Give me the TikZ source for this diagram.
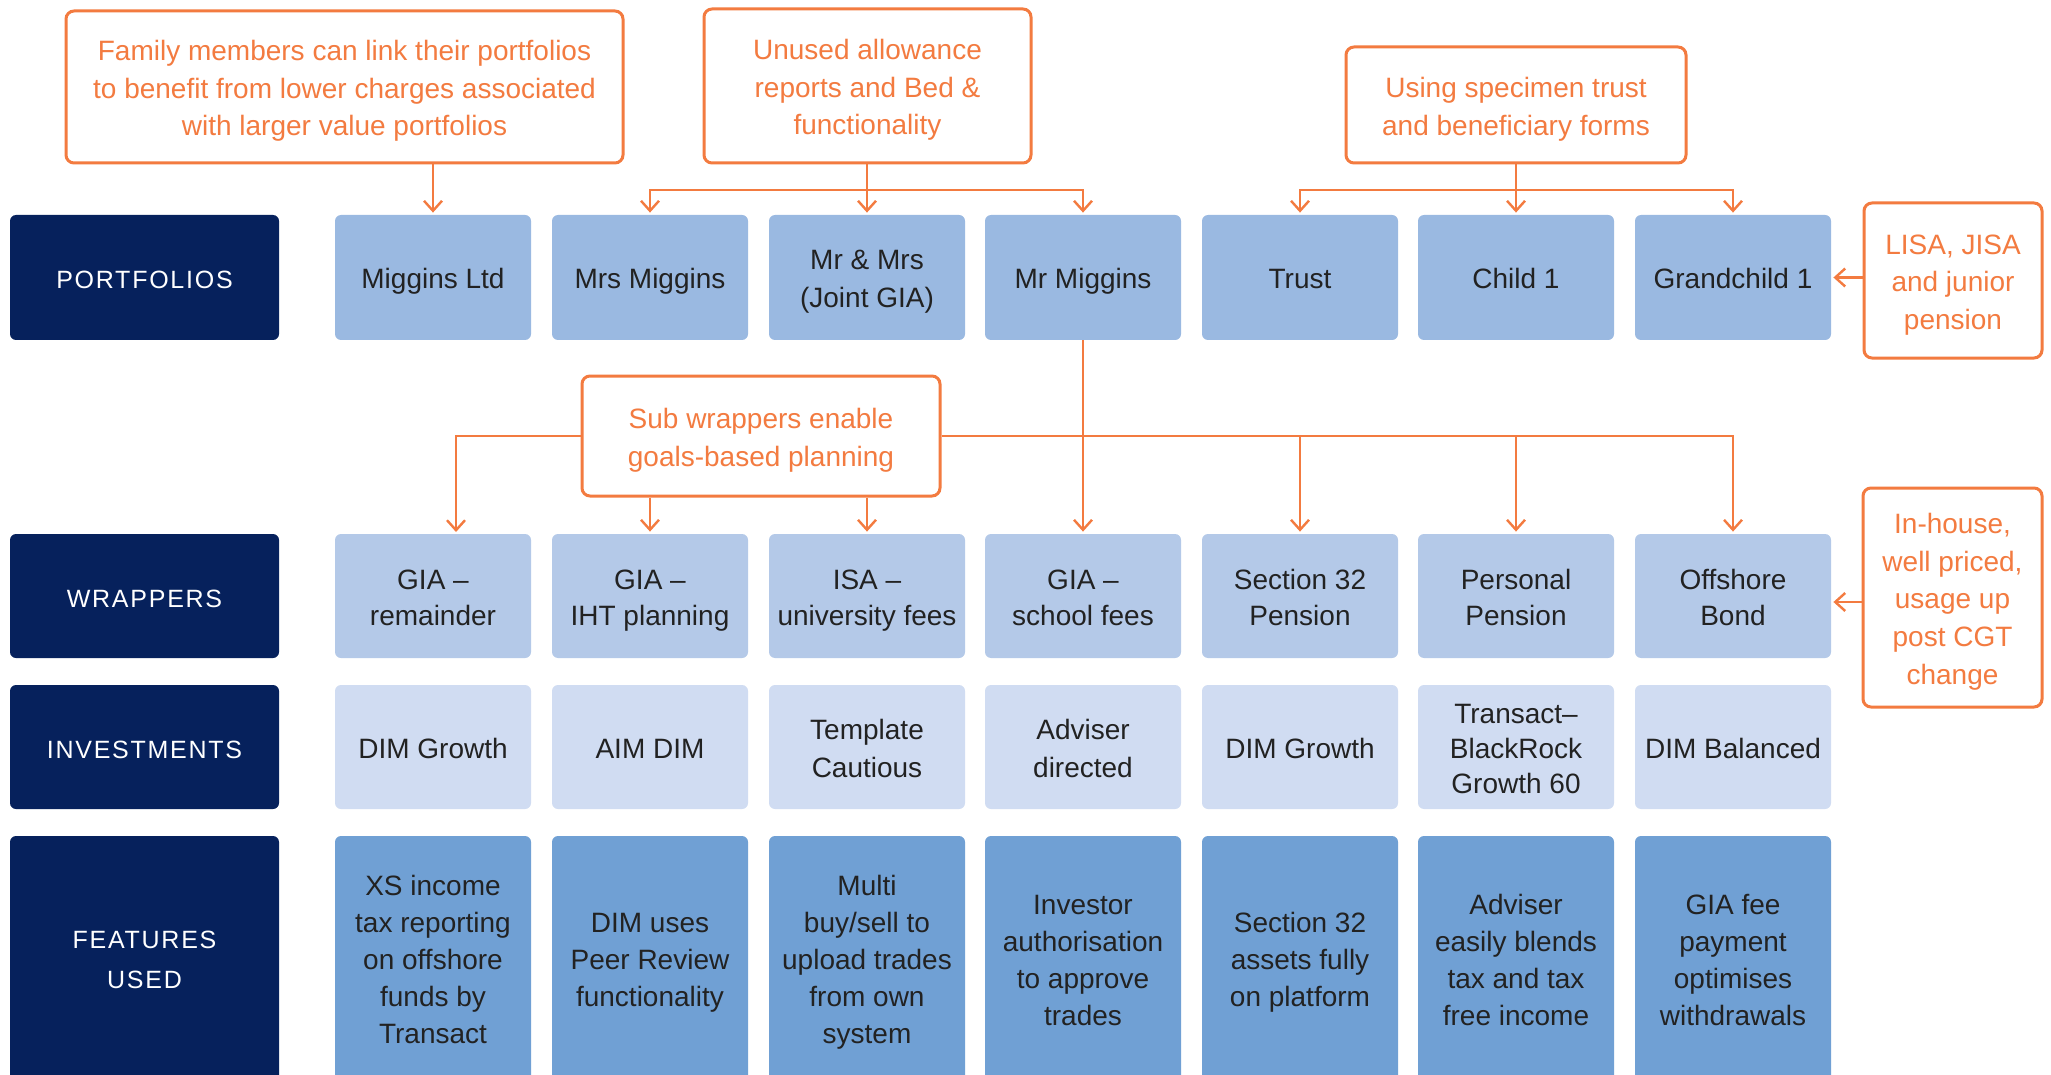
\documentclass[tikz,border=0pt]{standalone}
\usepackage{fontspec}
\setmainfont{Liberation Sans}
\usetikzlibrary{arrows.meta}
\definecolor{navy}{RGB}{6,33,92}
\definecolor{cport}{RGB}{154,185,225}
\definecolor{cwrap}{RGB}{180,201,232}
\definecolor{cinv}{RGB}{208,220,242}
\definecolor{cfeat}{RGB}{112,160,212}
\definecolor{corange}{RGB}{243,123,64}
\definecolor{ctext}{RGB}{34,34,34}
\newcommand{\tp}{\rule{0pt}{14.4pt}}
\newcommand{\tpl}{\rule{0pt}{11pt}}
\begin{document}
\begin{tikzpicture}[x=0.5pt,y=-0.5pt,
 struts/.style={execute at begin node={\rule{0pt}{14.4pt}}, execute at end node={\rule[-3pt]{0pt}{0pt}}},
 cell/.style={struts, rounded corners=3pt, inner sep=0pt, minimum width=98pt, align=center, text=ctext},
 port/.style={cell, fill=cport, minimum height=62.5pt, font=\fontsize{14}{19}\selectfont},
 wrap/.style={cell, fill=cwrap, minimum height=62pt, font=\fontsize{14}{18}\selectfont},
 inv/.style={cell, fill=cinv, minimum height=62pt, font=\fontsize{14}{19}\selectfont},
 feat/.style={cell, fill=cfeat, minimum height=122.5pt, font=\fontsize{14}{18.5}\selectfont},
 lab/.style={struts, rounded corners=3pt, fill=navy, text=white, inner sep=0pt, minimum width=134.5pt, align=center, font=\fontsize{12.5}{20}\selectfont\addfontfeature{LetterSpace=7}},
 call/.style={struts, draw=corange, line width=1.5pt, rounded corners=4pt, fill=white, text=corange, align=center, inner sep=0pt, font=\fontsize{14}{18.8}\selectfont},
 conn/.style={draw=corange, line width=1.2pt},
 arr/.style={conn, -{Straight Barb[length=5pt,width=9pt]}, shorten >=1pt},
]
\useasboundingbox (0,0) rectangle (2051,1075);
\clip (0,0) rectangle (2051,1075);
\fill[white] (0,0) rectangle (2051,1075);

% row labels
\node[lab, minimum height=62.5pt] (lp) at (144.5,277.5) {PORTFOLIOS};
\node[lab, minimum height=62pt] (lw) at (144.5,596) {WRAPPERS};
\node[lab, minimum height=62pt] (li) at (144.5,747) {INVESTMENTS};
\node[lab, minimum height=124.5pt] (lf) at (144.5,960.5) {\tpl FEATURES\\USED};

% portfolios
\node[port] (p1) at (433,277.5) {Miggins Ltd};
\node[port] (p2) at (650,277.5) {Mrs Miggins};
\node[port] (p3) at (867,277.5) {\tp Mr \& Mrs\\(Joint GIA)};
\node[port] (p4) at (1083,277.5) {Mr Miggins};
\node[port] (p5) at (1300,277.5) {Trust};
\node[port] (p6) at (1516,277.5) {Child 1};
\node[port] (p7) at (1733,277.5) {Grandchild 1};

% wrappers
\node[wrap] (w1) at (433,596) {\tp GIA –\\remainder};
\node[wrap] (w2) at (650,596) {\tp GIA –\\IHT planning};
\node[wrap] (w3) at (867,596) {\tp ISA –\\university fees};
\node[wrap] (w4) at (1083,596) {\tp GIA –\\school fees};
\node[wrap] (w5) at (1300,596) {\tp Section 32\\Pension};
\node[wrap] (w6) at (1516,596) {\tp Personal\\Pension};
\node[wrap] (w7) at (1733,596) {\tp Offshore\\Bond};

% investments
\node[inv] (i1) at (433,747) {DIM Growth};
\node[inv] (i2) at (650,747) {AIM DIM};
\node[inv] (i3) at (867,747) {\tp Template\\Cautious};
\node[inv] (i4) at (1083,747) {\tp Adviser\\directed};
\node[inv] (i5) at (1300,747) {DIM Growth};
\node[inv, font=\fontsize{14}{17.7}\selectfont] (i6) at (1516,747) {\tp Transact–\\BlackRock\\Growth 60};
\node[inv] (i7) at (1733,747) {DIM Balanced};

% features
\node[feat] (f1) at (433,958.5) {\tp XS income\\tax reporting\\on offshore\\funds by\\Transact};
\node[feat] (f2) at (650,958.5) {\tp DIM uses\\Peer Review\\functionality};
\node[feat] (f3) at (867,958.5) {\tp Multi\\buy/sell to\\upload trades\\from own\\system};
\node[feat] (f4) at (1083,958.5) {\tp Investor\\authorisation\\to approve\\trades};
\node[feat] (f5) at (1300,958.5) {\tp Section 32\\assets fully\\on platform};
\node[feat] (f6) at (1516,958.5) {\tp Adviser\\easily blends\\tax and tax\\free income};
\node[feat] (f7) at (1733,958.5) {\tp GIA fee\\payment\\optimises\\withdrawals};

% callouts
\node[call, minimum width=278.5pt, minimum height=76pt] (fam) at (344.5,87) {\tp Family members can link their portfolios\\to benefit from lower charges associated\\with larger value portfolios};
\node[call, minimum width=163.5pt, minimum height=77pt] (unused) at (867.5,86) {\tp Unused allowance\\reports and Bed \&\\functionality};
\node[call, minimum width=170pt, minimum height=58pt] (spec) at (1516,105) {\tp Using specimen trust\\and beneficiary forms};
\node[call, minimum width=89pt, minimum height=77.5pt] (lisa) at (1953,280.5) {\tp LISA, JISA\\and junior\\pension};
\node[call, minimum width=179pt, minimum height=60pt] (sub) at (761,436) {\tp Sub wrappers enable\\goals-based planning};
\node[call, minimum width=89.5pt, minimum height=109.5pt] (ih) at (1952.5,597.5) {\tp In-house,\\well priced,\\usage up\\post CGT\\change};

% connectors
\draw[arr] (fam.south -| p1.north) -- (p1.north);

\coordinate (ub) at (867,190);
\draw[arr] (unused.south -| p3.north) -- (p3.north);
\draw[arr] (ub) -| (p2.north);
\draw[arr] (ub) -| (p4.north);

\coordinate (sb) at (1516,190);
\draw[arr] (spec.south -| p6.north) -- (p6.north);
\draw[arr] (sb) -| (p5.north);
\draw[arr] (sb) -| (p7.north);

\draw[arr] (lisa.west |- p7.east) -- (p7.east);

\coordinate (w1a) at (456,534);
\draw[arr] (sub.west) -| (w1a);
\draw[arr] (sub.south -| w2.north) -- (w2.north);
\draw[arr] (sub.south -| w3.north) -- (w3.north);
\draw[arr] (sub.east) -| (w7.north);
\draw[arr] (sub.east -| w5.north) -- (w5.north);
\draw[arr] (sub.east -| w6.north) -- (w6.north);
\draw[arr] (p4.south) -- (w4.north);

\coordinate (iha) at (1863,602);
\draw[arr] (iha) -- (iha -| w7.east);
\end{tikzpicture}
\end{document}
